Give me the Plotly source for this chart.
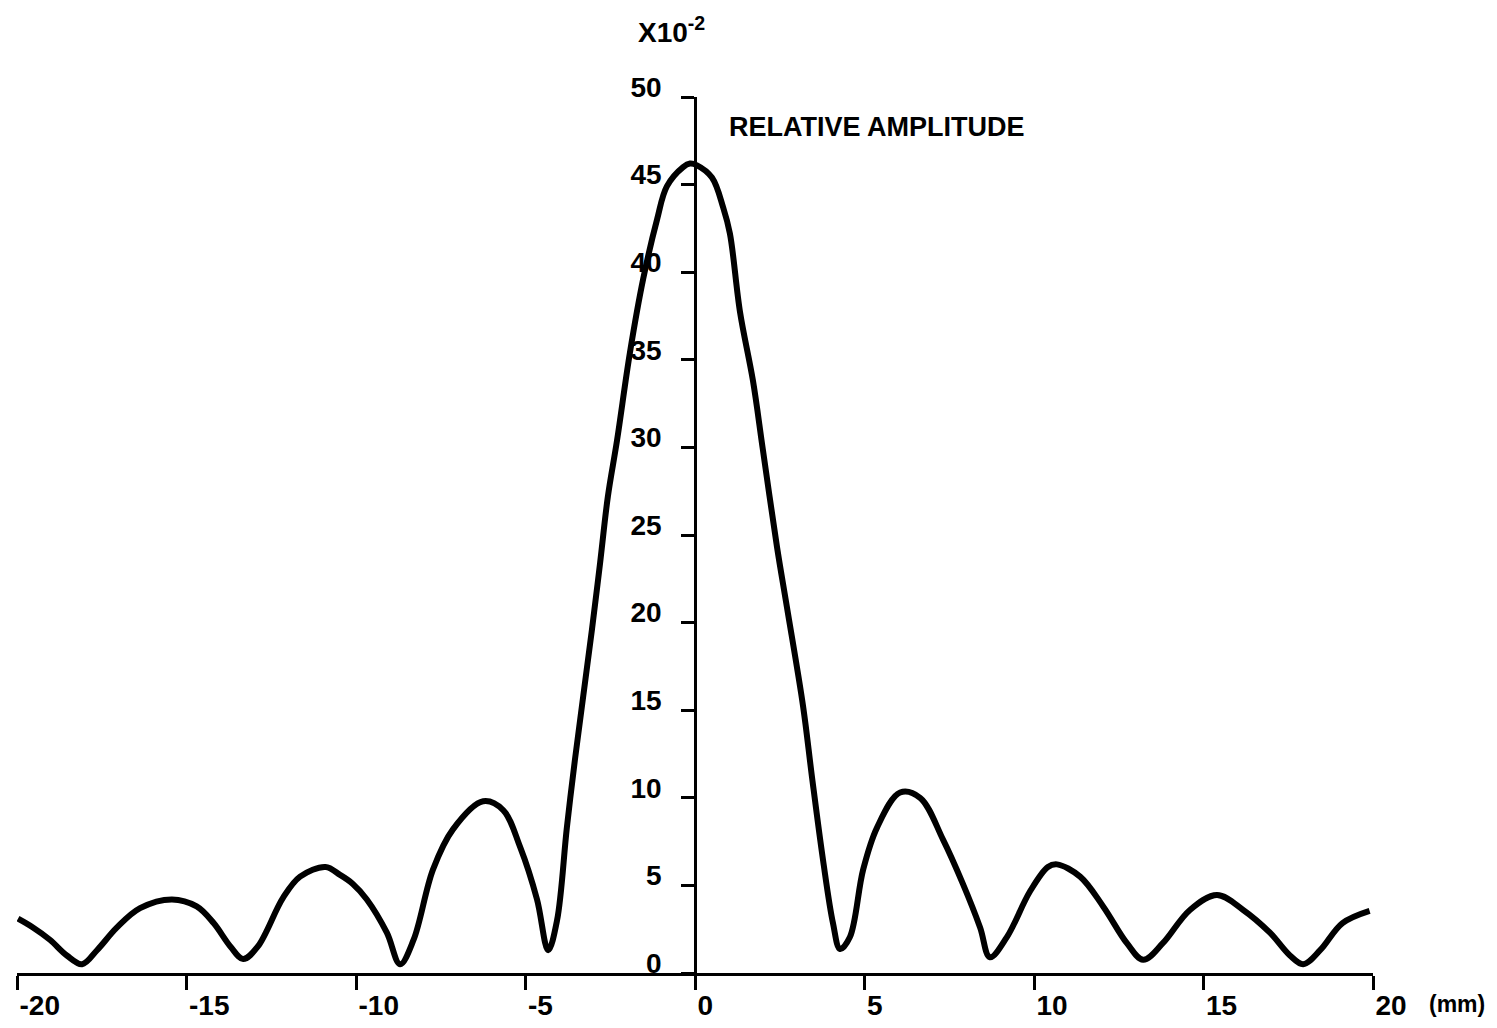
import plotly.graph_objects as go

# Curve (position in mm, relative amplitude x10^-2)
pos_mm = [-19.97, -19.53, -19.03, -18.53, -18.08, -17.64, -17.05, -16.37, -15.43, -14.7,
          -14.2, -13.7, -13.33, -12.9, -12.15, -11.65, -10.9, -10.47, -10.1, -9.68,
          -9.09, -8.7, -8.3, -7.73, -7.14, -6.25, -5.66, -5.16, -4.66, -4.33,
          -4.07, -3.78, -3.54, -3.04, -2.8, -2.57, -2.3, -1.92, -1.53, -1.12,
          -0.83, -0.35, -0.15, 0.06, 0.5, 0.83, 1.03, 1.33, 1.71, 2.0,
          2.42, 2.71, 3.19, 3.45, 3.78, 4.07, 4.28, 4.57, 4.96, 5.37,
          6.05, 6.64, 7.32, 7.9, 8.41, 8.7, 9.2, 9.88, 10.41, 10.68,
          11.36, 12.04, 12.74, 13.22, 13.8, 14.6, 15.4, 16.17, 16.96, 17.55,
          17.94, 18.44, 19.1, 19.9]
amplitude = [3.1, 2.6, 1.9, 1.0, 0.5, 1.3, 2.6, 3.7, 4.2, 3.8,
             2.85, 1.5, 0.8, 1.5, 4.3, 5.5, 6.05, 5.6, 5.1, 4.2,
             2.3, 0.5, 1.9, 5.9, 8.2, 9.8, 9.3, 7.2, 4.2, 1.3,
             3.0, 8.3, 12.2, 19.6, 23.4, 27.2, 30.4, 35.4, 39.6, 43.0,
             44.9, 46.0, 46.2, 46.1, 45.4, 43.7, 42.2, 37.7, 33.8, 29.9,
             24.3, 20.9, 15.2, 11.2, 6.4, 2.85, 1.37, 2.05, 5.9, 8.3,
             10.3, 10.0, 7.6, 5.1, 2.6, 0.9, 2.05, 4.65, 6.05, 6.2,
             5.5, 3.8, 1.7, 0.75, 1.7, 3.6, 4.45, 3.6, 2.3, 1.0,
             0.5, 1.3, 2.85, 3.55]

x_ticks = [-20, -15, -10, -5, 0, 5, 10, 15, 20]
x_tick_labels = ["-20", "-15", "-10", "-5", "0", "5", "10", "15", "20"]
y_ticks = [0, 5, 10, 15, 20, 25, 30, 35, 40, 45, 50]
y_tick_labels = ["0", "5", "10", "15", "20", "25", "30", "35", "40", "45", "50"]

FONT = "Liberation Sans, Arial, sans-serif"
TXT = dict(family=FONT, size=28, color="black", weight="bold")

fig = go.Figure()
fig.add_trace(go.Scatter(
    x=pos_mm, y=amplitude, mode="lines",
    line=dict(color="black", width=6, shape="spline", smoothing=1.0),
    hoverinfo="skip", showlegend=False,
))

fig.update_layout(
    width=1481, height=1012,
    margin=dict(l=9, r=116, t=89, b=47, autoexpand=False),
    paper_bgcolor="white", plot_bgcolor="white",
    font=TXT,
    xaxis=dict(
        range=[-20, 20], showgrid=False, zeroline=False, automargin=False,
        showline=True, linecolor="black", linewidth=2.5,
        ticks="outside", ticklen=14, tickwidth=2.5, tickcolor="black",
        tickvals=x_ticks, ticktext=x_tick_labels,
        ticklabelposition="outside right", ticklabelstandoff=6,
        tickfont=TXT,
    ),
    yaxis=dict(
        range=[0, 50], showgrid=False, zeroline=False, automargin=False,
        anchor="free", position=0.5,
        showline=True, linecolor="black", linewidth=2.5,
        ticks="outside", ticklen=13, tickwidth=2.5, tickcolor="black",
        tickvals=y_ticks, ticktext=y_tick_labels,
        ticklabelposition="outside", ticklabelstandoff=14, ticklabelshift=-10,
        tickfont=TXT,
    ),
    annotations=[
        dict(text="X10<sup>-2</sup>", xref="paper", yref="paper",
             x=(636 - 17) / 1356, y=(973 - 30) / 876, xanchor="left", yanchor="middle",
             showarrow=False, font=TXT),
        dict(text="RELATIVE AMPLITUDE", xref="paper", yref="paper",
             x=(727 - 17) / 1356, y=(973 - 127) / 876, xanchor="left", yanchor="middle",
             showarrow=False, font=dict(family=FONT, size=27, color="black", weight="bold")),
        dict(text="(mm)", xref="paper", yref="paper",
             x=(1427 - 17) / 1356, y=(973 - 1004) / 876, xanchor="left", yanchor="middle",
             showarrow=False, font=dict(family=FONT, size=23, color="black", weight="bold")),
    ],
)

fig.write_html("out.html")
